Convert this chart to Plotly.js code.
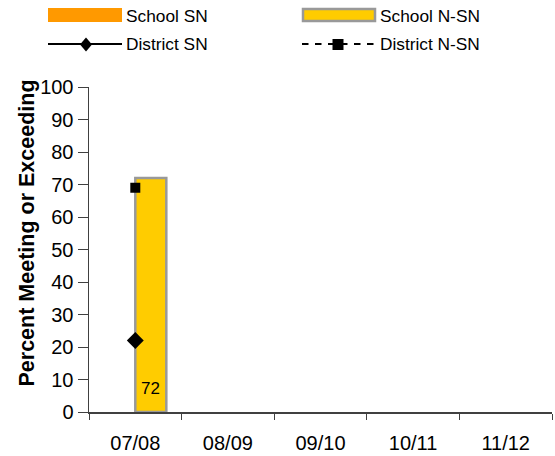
<!DOCTYPE html>
<html><head><meta charset="utf-8">
<script src="https://cdn.plot.ly/plotly-3.0.1.min.js"></script>
<style>html,body{margin:0;padding:0;background:#fff}#chart{width:555px;height:456px}</style>
</head><body><div id="chart"></div>
<script>
const categories = ["07/08","08/09","09/10","10/11","11/12"];
const schoolSN = [null,null,null,null,null];
const schoolNSN = [72,null,null,null,null];
const districtSN = [22,null,null,null,null];
const districtNSN = [69,null,null,null,null];
const yTicks = [0,10,20,30,40,50,60,70,80,90,100];
const yTitle = "Percent Meeting or Exceeding";

const FONT = "Arial, 'Liberation Sans', sans-serif";
const W = 555, H = 456;
const M = {l:89, r:3, t:87, b:44};
const pw = W - M.l - M.r, ph = H - M.t - M.b;
const px = x => (x - M.l) / pw;
const py = y => (H - M.b - y) / ph;

const traces = [
  {type:'bar', name:'School SN', x:categories, y:schoolSN,
   marker:{color:'#FF9900'}, showlegend:false},
  {type:'bar', name:'School N-SN', x:categories, y:schoolNSN,
   marker:{color:'#FFCC00', line:{color:'#999999', width:2.5}},
   showlegend:false},
  {type:'scatter', mode:'lines+markers', name:'District SN', x:categories, y:districtSN,
   line:{color:'#000',width:2}, marker:{symbol:'diamond',size:13,color:'#000'}, showlegend:false},
  {type:'scatter', mode:'lines+markers', name:'District N-SN', x:categories, y:districtNSN,
   line:{color:'#000',width:2,dash:'dash'}, marker:{symbol:'square',size:10,color:'#000'}, showlegend:false}
];

// manual legend
const shapes = [
  {type:'rect', xref:'paper', yref:'paper', x0:px(48), x1:px(122), y0:py(22), y1:py(8),
   fillcolor:'#FF9900', line:{width:0}},
  {type:'rect', xref:'paper', yref:'paper', x0:px(303), x1:px(375), y0:py(21), y1:py(9),
   fillcolor:'#FFCC00', line:{color:'#999999', width:2.5}},
  {type:'line', xref:'paper', yref:'paper', x0:px(48), x1:px(122), y0:py(44), y1:py(44),
   line:{color:'#000', width:2}},
  {type:'path', xref:'paper', yref:'paper', xsizemode:'pixel', ysizemode:'pixel',
   xanchor:px(86), yanchor:py(44.5), path:'M -6 0 L 0 7 L 6 0 L 0 -7 Z',
   fillcolor:'#000', line:{width:0}},
  {type:'line', xref:'paper', yref:'paper', x0:px(302), x1:px(376), y0:py(44), y1:py(44),
   line:{color:'#000', width:2, dash:'6.5px,6.5px'}},
  {type:'path', xref:'paper', yref:'paper', xsizemode:'pixel', ysizemode:'pixel',
   xanchor:px(338), yanchor:py(44.5), path:'M -5.5 -5.5 L 5.5 -5.5 L 5.5 5.5 L -5.5 5.5 Z',
   fillcolor:'#000', line:{width:0}}
];
const legendFont = {family:FONT, size:17.3, color:'#000'};
const annotations = [
  {text:'School SN', x:px(124), y:py(15.5)},
  {text:'School N-SN', x:px(378), y:py(15.5)},
  {text:'District SN', x:px(124), y:py(44)},
  {text:'District N-SN', x:px(378), y:py(44)}
].map(a => Object.assign({xref:'paper', yref:'paper', xanchor:'left', yanchor:'middle',
   showarrow:false, font:legendFont}, a));

// bar value labels (inside bottom of the School N-SN bars)
schoolNSN.forEach((v, i) => {
  if (v == null) return;
  annotations.push({xref:'x', yref:'y', x:categories[i], y:0, xanchor:'center', yanchor:'bottom',
    xshift:15.5, yshift:12, text:String(v), showarrow:false,
    font:{family:FONT, size:17, color:'#000'}});
});

// y axis title
annotations.push({xref:'paper', yref:'paper', x:px(26), y:py(233.5), xanchor:'center', yanchor:'middle',
  textangle:-90, text:'<b>'+yTitle+'</b>', showarrow:false,
  font:{family:FONT, size:21.5, color:'#000'}});

const layout = {
  width:W, height:H, margin:M,
  paper_bgcolor:'#fff', plot_bgcolor:'#fff',
  font:{family:FONT, color:'#000'},
  barmode:'group', bargap:0.33, bargroupgap:0,
  showlegend:false,
  xaxis:{type:'category', range:[-0.5,4.5], tickson:'boundaries', ticks:'outside', ticklen:6,
         tickcolor:'#404040', showline:true, linecolor:'#404040', linewidth:1.5,
         showgrid:false, zeroline:false, tickfont:{family:FONT,size:20,color:'#000'},
         ticklabelstandoff:12},
  yaxis:{range:[0,100], tickvals:yTicks, ticktext:yTicks.map(String), ticks:'outside', ticklen:10,
         tickcolor:'#404040', showline:true, linecolor:'#404040', linewidth:1.5,
         showgrid:false, zeroline:false, tickfont:{family:FONT,size:20,color:'#000'}},
  shapes:shapes, annotations:annotations
};
Plotly.newPlot('chart', traces, layout, {displayModeBar:false, staticPlot:true});
</script></body></html>
